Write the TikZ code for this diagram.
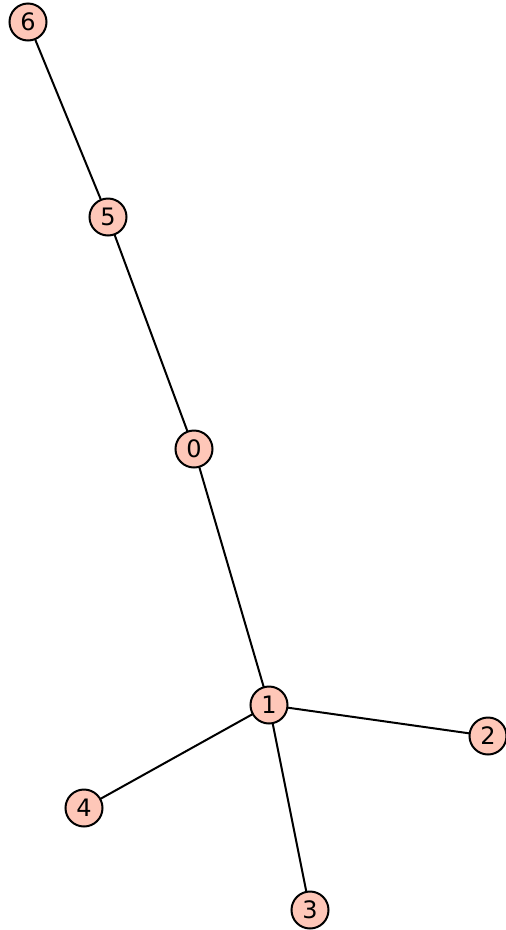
\documentclass[tikz,border=0pt]{standalone}
\usepackage{fontspec}
\setmainfont{DejaVu Sans}
\definecolor{vfill}{HTML}{FEC7B8}
\begin{document}
\begin{tikzpicture}[x=1pt,y=-1pt,
  vtx/.style={circle,draw=black,line width=2pt,fill=vfill,minimum size=37pt,inner sep=0pt,font=\fontsize{24}{24}\selectfont},
  edge/.style={line width=2pt,black}]
\useasboundingbox (0,0) rectangle (506,930);
\draw[edge] (28,22) coordinate (c6) -- (108,217) coordinate (c5) -- (194,449) coordinate (c0) -- (269,705) coordinate (c1) -- (488,736) coordinate (c2);
\coordinate (c4) at (84,808);
\coordinate (c3) at (310,910);
\draw[edge] (c1) -- (c4);
\draw[edge] (c1) -- (c3);
\node[vtx] (v6) at (c6) {6};
\node[vtx] (v5) at (c5) {5};
\node[vtx] (v0) at (c0) {0};
\node[vtx] (v1) at (c1) {1};
\node[vtx] (v2) at (c2) {2};
\node[vtx] (v4) at (c4) {4};
\node[vtx] (v3) at (c3) {3};
\end{tikzpicture}
\end{document}
